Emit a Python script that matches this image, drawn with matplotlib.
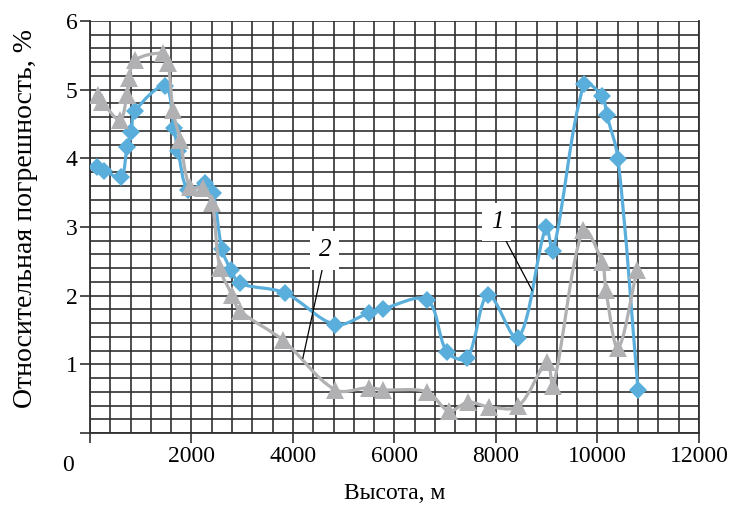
import numpy as np
import matplotlib
matplotlib.use("Agg")
import matplotlib.pyplot as plt
from matplotlib.path import Path
from matplotlib.patches import PathPatch

plt.rcParams["font.family"] = ["Liberation Serif", "DejaVu Serif"]

# curve 1 (blue diamonds)
h1 = [140, 275, 610, 730, 810, 890, 1480, 1655, 1735, 1930, 2265, 2425, 2600,
      2780, 2955, 3840, 4830, 5500, 5775, 6640, 7035, 7430, 7845, 8435, 8985,
      9125, 9735, 10090, 10185, 10405, 10800]
e1 = [3.87, 3.82, 3.73, 4.16, 4.38, 4.69, 5.05, 4.44, 4.11, 3.54, 3.64, 3.49,
      2.68, 2.37, 2.18, 2.04, 1.58, 1.75, 1.81, 1.94, 1.18, 1.09, 2.01, 1.38,
      3.00, 2.65, 5.08, 4.91, 4.63, 3.99, 0.62]

# curve 2 (grey triangles)
h2 = [160, 240, 590, 730, 770, 890, 1440, 1540, 1635, 1775, 1970, 2225, 2405,
      2560, 2800, 2955, 3805, 4830, 5500, 5775, 6640, 7075, 7450, 7860, 8435,
      9005, 9125, 9715, 10090, 10165, 10405, 10780]
e2 = [4.92, 4.82, 4.56, 4.92, 5.17, 5.43, 5.53, 5.39, 4.70, 4.27, 3.58, 3.57,
      3.35, 2.40, 2.01, 1.78, 1.35, 0.63, 0.66, 0.63, 0.60, 0.32, 0.45, 0.38,
      0.39, 1.03, 0.68, 2.96, 2.49, 2.08, 1.24, 2.37]

blue = "#5aaedb"
grey = "#b1b1b4"


def smooth_path(xs, ys, sx=0.0508, sy=68.7):
    # smoothed line like a spreadsheet chart: Bezier segments whose handles
    # are scaled by the neighbouring segment lengths (measured on screen)
    p = np.column_stack([xs, ys]).astype(float)
    q = p * [sx, sy]
    n = len(p)
    d = np.hypot(*np.diff(q, axis=0).T)
    verts = [p[0]]
    codes = [Path.MOVETO]
    for i in range(n - 1):
        if i > 0:
            c1 = p[i] + (p[i + 1] - p[i - 1]) * d[i] / (3 * (d[i - 1] + d[i]))
        else:
            c1 = p[i] + (p[i + 1] - p[i]) / 3
        if i + 2 < n:
            c2 = p[i + 1] - (p[i + 2] - p[i]) * d[i] / (3 * (d[i] + d[i + 1]))
        else:
            c2 = p[i + 1] - (p[i + 1] - p[i]) / 3
        verts += [c1, c2, p[i + 1]]
        codes += [Path.CURVE4] * 3
    return Path(verts, codes)


fig = plt.figure(figsize=(7.35, 5.08), dpi=100)
ax = fig.add_axes([0.1224, 0.1476, 0.8286, 0.8111])

ax.set_xlim(0, 12000)
ax.set_ylim(0, 6)
ax.set_xticks(np.arange(0, 12001, 2000))
ax.set_xticks(np.arange(0, 12001, 400), minor=True)
ax.set_yticks(np.arange(0, 6.01, 1))
ax.set_yticks(np.arange(0, 6.01, 0.2), minor=True)
ax.set_xticklabels([""] + [str(v) for v in range(2000, 12001, 2000)])
ax.set_yticklabels([""] + [str(v) for v in range(1, 7)])
ax.grid(which="both", color="#303030", linewidth=1.2)
ax.set_axisbelow(True)
ax.tick_params(which="major", direction="out", length=7, width=1.2,
               color="#303030", labelsize=17, pad=2)
ax.tick_params(which="minor", length=0)
ax.spines["top"].set_visible(False)
for s in ["left", "bottom", "right"]:
    ax.spines[s].set_color("#303030")
    ax.spines[s].set_linewidth(1.3)

ax.text(-0.036, -0.08, "0", transform=ax.transAxes, fontsize=17,
        ha="center", va="center")

ax.add_patch(PathPatch(smooth_path(h1, e1), facecolor="none", edgecolor=blue,
                       linewidth=2.3, zorder=3))
ax.plot(h1, e1, linestyle="none", marker="D", markersize=8.8, color=blue,
        markeredgewidth=0, zorder=4)
ax.add_patch(PathPatch(smooth_path(h2, e2), facecolor="none", edgecolor=grey,
                       linewidth=2.3, zorder=5))
ax.plot(h2, e2, linestyle="none", marker="^", markersize=12.5, color=grey,
        markeredgewidth=0, zorder=6)

# curve labels with leader lines
ax.plot([8160, 8710], [2.85, 2.08], color="black", linewidth=0.9, zorder=7)
ax.plot([4590, 4195], [2.43, 1.09], color="black", linewidth=0.9, zorder=7)
ax.text(8020, 3.07, "1", fontsize=18, style="italic", ha="center", va="center",
        zorder=8, bbox=dict(facecolor="white", edgecolor="none", pad=6))
ax.text(4631, 2.66, "2", fontsize=18, style="italic", ha="center", va="center",
        zorder=8, bbox=dict(facecolor="white", edgecolor="none", pad=6))

ax.set_xlabel("Высота, м", fontsize=17, labelpad=12)
ax.set_ylabel("Относительная погрешность, %", fontsize=20, labelpad=20)
ax.yaxis.label.set_y(0.52)

fig.savefig("out.png", dpi=100)
